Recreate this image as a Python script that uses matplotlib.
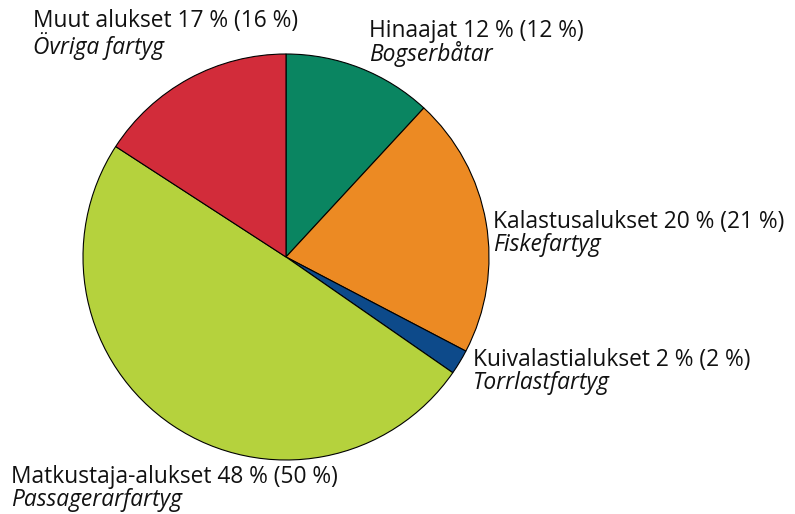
import matplotlib.pyplot as plt

# sektorit piirretty suluissa olevista arvoista, myotapaivaan klo 12 alkaen
sektorit = [12, 21, 2, 50, 16]
nimet_fi = ["Hinaajat 12 % (12 %)", "Kalastusalukset 20 % (21 %)",
            "Kuivalastialukset 2 % (2 %)", "Matkustaja-alukset 48 % (50 %)",
            "Muut alukset 17 % (16 %)"]
nimet_sv = ["Bogserbåtar", "Fiskefartyg", "Torrlastfartyg",
            "Passagerarfartyg", "Övriga fartyg"]
varit = ["#0a8561", "#ec8a23", "#0d4a8a", "#b5d23d", "#d22c3a"]

# tekstien paikat pikseleina: vasen reuna, rivien perusviivat ylhaalta
paikat = [(369, 37, 61), (493, 228, 251), (473, 366, 389),
          (11, 483, 506), (33, 27, 54)]

W, H = 795, 514
fig = plt.figure(figsize=(W / 100, H / 100), dpi=100)
ax = fig.add_axes([0, 0, 1, 1])

ax.pie(sektorit, colors=varit, startangle=90, counterclock=False,
       center=(286, H - 257), radius=203,
       wedgeprops=dict(edgecolor="black", linewidth=0.8))
ax.set_xlim(0, W)
ax.set_ylim(0, H)
ax.set_aspect("equal")
ax.axis("off")

for (x, y1, y2), fi, sv in zip(paikat, nimet_fi, nimet_sv):
    ax.text(x, H - y1, fi, fontsize=16.4, family="Open Sans", va="baseline",
            ha="left", color="#111111")
    ax.text(x, H - y2, sv, fontsize=16.4, family="Open Sans", style="italic",
            va="baseline", ha="left", color="#111111")

fig.savefig("out.png", dpi=100)
